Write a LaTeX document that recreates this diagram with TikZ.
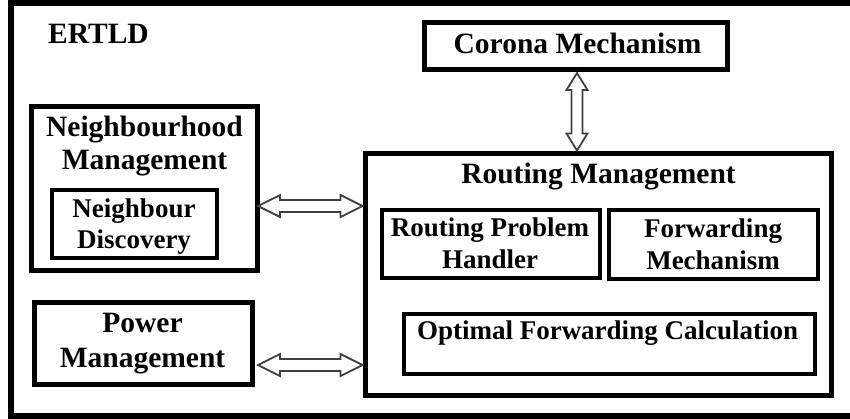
\documentclass[tikz,border=0pt]{standalone}
\usepackage{fontspec}
\setmainfont{Liberation Serif}
\usetikzlibrary{calc}
\newcommand\bigtxt{\fontsize{29.5}{35}\selectfont\bfseries}
\newcommand\smalltxt{\fontsize{27}{32}\selectfont\bfseries}
\tikzset{
  box/.style={draw=black, line width=5pt, inner sep=0pt, fill=none},
  inbox/.style={draw=black, line width=4.5pt, inner sep=0pt},
  bigt/.style={font=\bigtxt, inner sep=0pt, anchor=base},
  smallt/.style={font=\smalltxt, inner sep=0pt, anchor=base},
  arrowline/.style={draw=black!75, line width=1.8pt, line join=miter},
}
\newcommand\harrow[2]{\draw[arrowline] (#1) -- ++(22,-11) -- ++(0,5) -- ($(#2)+(-22,-6)$) -- ++(0,-5) -- (#2) -- ++(-22,11) -- ++(0,-5) -- ($(#1)+(22,6)$) -- ++(0,5) -- cycle;}
\newcommand\varrow[2]{\draw[arrowline] (#1) -- ++(10.5,17) -- ++(-5,0) -- ($(#2)+(5.5,-17)$) -- ++(5,0) -- (#2) -- ++(-10.5,-17) -- ++(5,0) -- ($(#1)+(-5.5,17)$) -- ++(-5,0) -- cycle;}
\begin{document}
\begin{tikzpicture}[x=1pt, y=-1pt]
\useasboundingbox (0,0) rectangle (850,418);
\fill[white] (0,0) rectangle (850,418);
% outer frame (right side lies outside the picture)
\draw[line width=6pt] (850,3) -- (10.5,3) -- (10.5,415.5) -- (850,415.5);
\node[bigt, anchor=base west] (ertld) at (48,43) {ERTLD};

% boxes
\node[box, minimum width=303pt, minimum height=47pt] (cm) at (575.5,45.5) {};
\node[box, minimum width=226pt, minimum height=164pt] (nm) at (144,188) {};
\node[inbox, minimum width=165pt, minimum height=68pt] (nd) at (134.5,224) {};
\node[box, minimum width=218pt, minimum height=82pt] (pm) at (143,343) {};
\node[box, minimum width=466pt, minimum height=242pt] (rm) at (598,274) {};
\node[inbox, minimum width=218pt, minimum height=68pt] (rph) at (491,244) {};
\node[inbox, minimum width=209pt, minimum height=69pt] (fm) at (713.5,244.5) {};
\node[inbox, minimum width=411pt, minimum height=60pt] (ofc) at (609.5,344) {};

% texts
\node[bigt] (cmt) at (577.5,53) {Corona Mechanism};
\node[bigt] (rmt) at (598.5,183) {Routing Management};
\node[bigt] (nmt1) at (144.5,136) {Neighbourhood};
\node[bigt] (nmt2) at (144.5,169) {Management};
\node[smallt] (ndt1) at (134,217) {Neighbour};
\node[smallt] (ndt2) at (134,248) {Discovery};
\node[bigt] (pmt1) at (142.5,332) {Power};
\node[bigt] (pmt2) at (142.5,367) {Management};
\node[smallt] (rpht1) at (490,236) {Routing Problem};
\node[smallt] (rpht2) at (490,268) {Handler};
\node[smallt] (fmt1) at (713,237) {Forwarding};
\node[smallt] (fmt2) at (713,269) {Mechanism};
\node[smallt] (ofct) at (607.5,339) {Optimal Forwarding Calculation};

% connector end points
\coordinate (ya) at (0,206);
\coordinate (yb) at (0,365);
\coordinate (xc) at (577,0);
\coordinate (a1) at ([xshift=-1.5pt]nm.east |- ya);
\coordinate (a2) at (rm.west |- ya);
\coordinate (b1) at ([xshift=3.5pt]pm.east |- yb);
\coordinate (b2) at (rm.west |- yb);
\coordinate (c1) at ([yshift=-1.5pt]xc |- cm.south);
\coordinate (c2) at (xc |- rm.north);
\harrow{a1}{a2}
\harrow{b1}{b2}
\varrow{c1}{c2}
\end{tikzpicture}
\end{document}
